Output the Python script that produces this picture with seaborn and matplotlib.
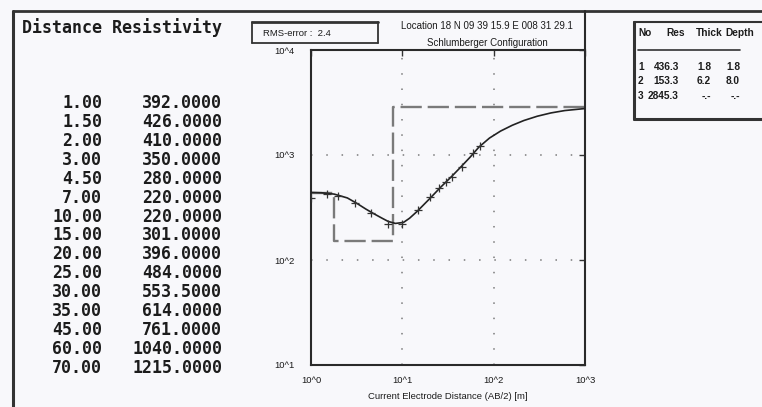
import matplotlib
matplotlib.use("Agg")
import matplotlib.pyplot as plt
import seaborn as sns
import numpy as np
from matplotlib.lines import Line2D
from matplotlib.ticker import NullLocator

# ---------------- data ----------------
distance = [1.00, 1.50, 2.00, 3.00, 4.50, 7.00, 10.00, 15.00, 20.00, 25.00,
            30.00, 35.00, 45.00, 60.00, 70.00]
resistivity = [392.0, 426.0, 410.0, 350.0, 280.0, 220.0, 220.0, 301.0, 396.0,
               484.0, 553.5, 614.0, 761.0, 1040.0, 1215.0]

# model curve
curve_ab = [1.0, 1.3, 1.8, 2.5, 3.2, 4.0, 4.8, 6.0, 7.0, 8.4, 10.3, 12.0, 14.5,
            20.0, 26.0, 35.0, 43.0, 55.0, 69.0, 90.0, 119.0, 160.0, 214.0,
            300.0, 423.0, 600.0, 1000.0]
curve_rho = [440, 437, 424, 390, 345, 305, 278, 250, 233, 223, 228, 250, 290,
             385, 489, 630, 758, 950, 1190, 1450, 1690, 1920, 2130, 2340,
             2515, 2650, 2770]

layer_no = ["1", "2", "3"]
layer_res = [436.3, 153.3, 2845.3]
layer_thick = ["1.8", "6.2", "-.-"]
layer_depth = ["1.8", "8.0", "-.-"]
depths = [1.8, 8.0]

x_ticks = [1, 10, 100, 1000]
x_ticklabels = ["10^0", "10^1", "10^2", "10^3"]
y_ticks = [10, 100, 1000, 10000]
y_ticklabels = ["10^1", "10^2", "10^3", "10^4"]

rms_text = "RMS-error :  2.4"
location_text = "Location 18 N 09 39 15.9 E 008 31 29.1"
config_text = "Schlumberger Configuration"
xlabel_text = "Current Electrode Distance (AB/2) [m]"

# ---------------- figure ----------------
sns.set_style("white")
plt.rcParams['font.family'] = ['Liberation Sans', 'DejaVu Sans']
W, H = 762, 407
BG = "#f8f8fb"
INK = "#1c1c1c"
fig = plt.figure(figsize=(W / 100, H / 100), dpi=100, facecolor=BG)


def fx(px):
    return px / W


def fy(py):
    return 1 - py / H


def hline(y, x0, x1, lw=1.5, color="#333"):
    fig.add_artist(Line2D([fx(x0), fx(x1)], [fy(y), fy(y)], lw=lw, color=color,
                          transform=fig.transFigure))


def vline(x, y0, y1, lw=1.5, color="#333"):
    fig.add_artist(Line2D([fx(x), fx(x)], [fy(y0), fy(y1)], lw=lw, color=color,
                          transform=fig.transFigure))


# outer frame
hline(11, 13, W, lw=2)
vline(13, 11, H, lw=2.2)

# left data table
mono = dict(family="DejaVu Sans Mono", weight="bold", color=INK, fontsize=12)
fig.text(fx(22), fy(28), "Distance Resistivity", ha="left", va="center", **mono)
y0, y1 = 103, 368
step = (y1 - y0) / (len(distance) - 1)
for i, (d, r) in enumerate(zip(distance, resistivity)):
    yy = y0 + i * step
    fig.text(fx(102), fy(yy), f"{d:.2f}", ha="right", va="center", **mono)
    fig.text(fx(222), fy(yy), f"{r:.4f}", ha="right", va="center", **mono)

# ---------------- plot axes ----------------
ax_l, ax_r, ax_t, ax_b = 311, 585, 50, 365
ax = fig.add_axes([fx(ax_l), fy(ax_b), (ax_r - ax_l) / W, (ax_b - ax_t) / H])
ax.set_facecolor(BG)
ax.set_xscale("log")
ax.set_yscale("log")
ax.set_xlim(1, 1000)
ax.set_ylim(10, 10000)

# layered model (dashed step)
step_x = [1, depths[0], depths[0], depths[1], depths[1], 1000]
step_y = [layer_res[0], layer_res[0], layer_res[1], layer_res[1],
          layer_res[2], layer_res[2]]
ax.plot(step_x, step_y, color="#7a7a7a", lw=1.7, linestyle=(0, (9, 2.5)),
        zorder=2)

sns.lineplot(x=curve_ab, y=curve_rho, ax=ax, color="#222", lw=1.2,
             estimator=None, sort=False, zorder=3)
sns.scatterplot(x=distance, y=resistivity, ax=ax, marker="+", s=28,
                color="#333", linewidth=0.9, zorder=4, legend=False)

ax.set_xticks(x_ticks)
ax.set_xticklabels(x_ticklabels)
ax.set_yticks(y_ticks)
ax.set_yticklabels(y_ticklabels)
ax.xaxis.set_minor_locator(NullLocator())
ax.yaxis.set_minor_locator(NullLocator())
ax.tick_params(axis="both", direction="in", length=4, width=1, top=True,
               right=True, labelsize=6.8, labelcolor=INK, color="#333")
ax.tick_params(axis="y", pad=12)
ax.tick_params(axis="x", pad=8)
ax.grid(True, which="major", linestyle=(0, (1, 9)), color="#7a7a7a", lw=1.1)
for sp in ax.spines.values():
    sp.set_color("#2a2a2a")
    sp.set_linewidth(1.5)
ax.set_xlabel(xlabel_text, fontsize=6.8, color=INK, labelpad=5)
ax.set_ylabel("")

# right axis line extends to top frame
vline(ax_r, 11, ax_t, lw=1.5, color="#2a2a2a")

# RMS box
hline(22, 252, 378, lw=2)
hline(43, 252, 378, lw=1.3)
vline(252, 22, 43, lw=1.3)
vline(378, 22, 43, lw=1.3)
fig.text(fx(263), fy(33), rms_text, ha="left", va="center", fontsize=6.8,
         color=INK)

# titles
fig.text(fx(487), fy(26), location_text, ha="center", va="center",
         fontsize=7, color=INK)
fig.text(fx(487), fy(43), config_text, ha="center", va="center",
         fontsize=7, color=INK)

# right model table
hline(22, 634, W, lw=1.5)
vline(634, 22, 119, lw=2.2)
hline(119, 634, W, lw=2.2)
hline(50, 638, 740, lw=1.2)
small = dict(fontsize=7.3, color=INK, weight="bold", va="center")
fig.text(fx(638), fy(33), "No", ha="left", **small)
fig.text(fx(666), fy(33), "Res", ha="left", **small)
fig.text(fx(696), fy(33), "Thick", ha="left", **small)
fig.text(fx(725), fy(33), "Depth", ha="left", **small)
row_y = [67, 81, 96]
for n, r, t, d, yy in zip(layer_no, layer_res, layer_thick, layer_depth, row_y):
    fig.text(fx(638), fy(yy), n, ha="left", **small)
    fig.text(fx(679), fy(yy), f"{r:.1f}", ha="right", **small)
    fig.text(fx(711), fy(yy), t, ha="right", **small)
    fig.text(fx(740), fy(yy), d, ha="right", **small)

fig.savefig("out.png", dpi=100, facecolor=BG)
